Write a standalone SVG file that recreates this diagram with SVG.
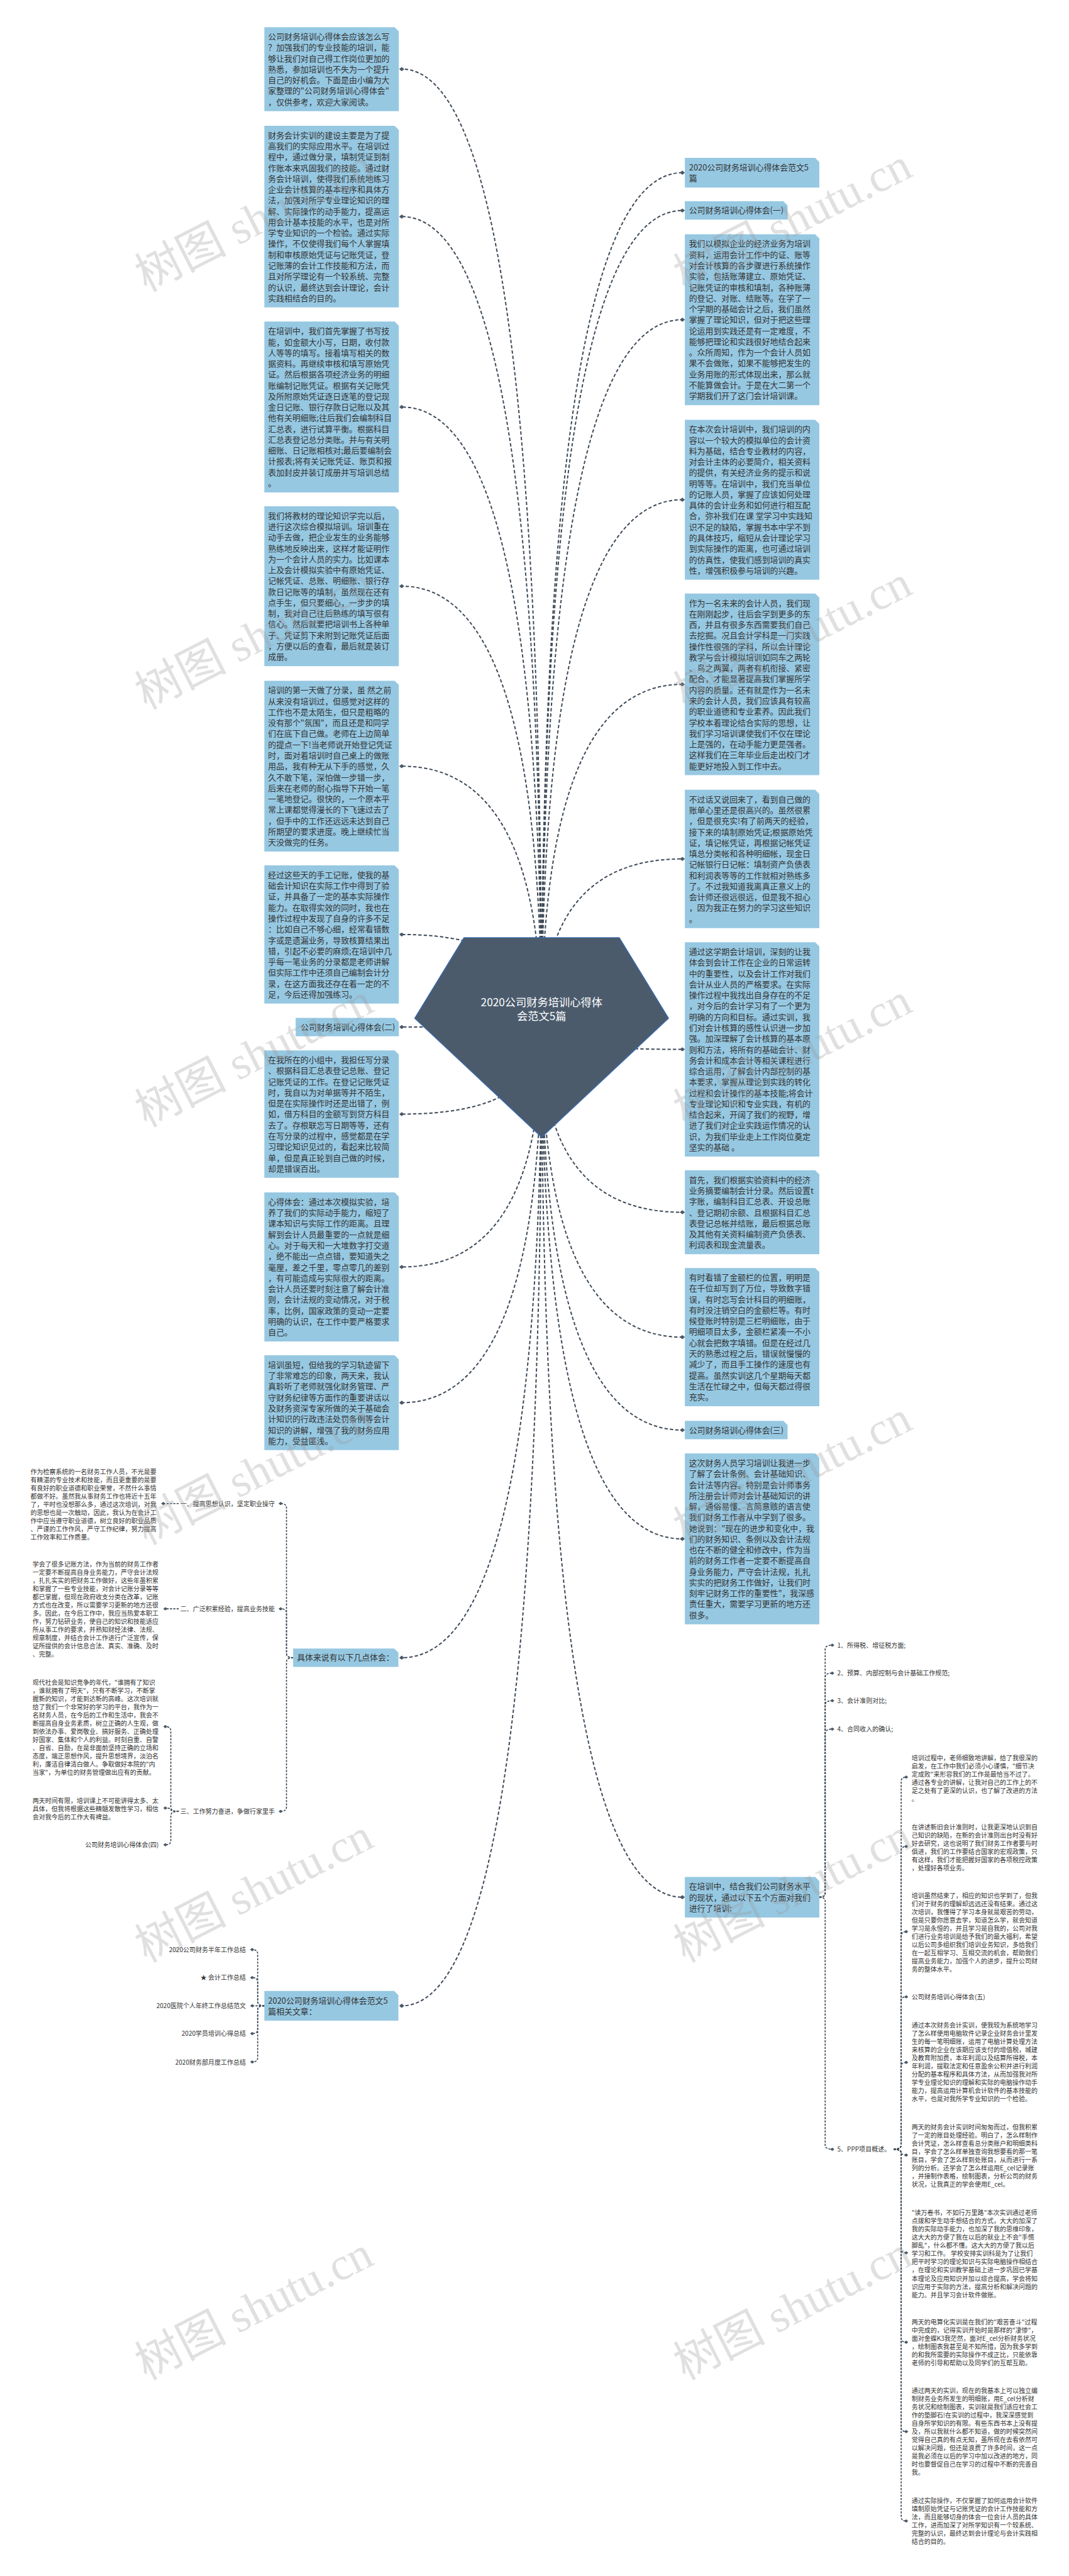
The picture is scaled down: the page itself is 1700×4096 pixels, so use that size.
<svg xmlns="http://www.w3.org/2000/svg" width="1700" height="4096" viewBox="0 0 1700 4096">
<defs>
<style>
.box{fill:#96c8e2;}
.t{font-family:"Noto Sans CJK SC","Liberation Sans",sans-serif;fill:#333;}
.bt{font-size:19.4px;}
.st{font-size:15.1px;}
.ct{font-family:"Noto Sans CJK SC","Liberation Sans",sans-serif;font-size:26px;fill:#fff;text-anchor:middle;}
.end{text-anchor:end;}
.mc{fill:none;stroke:#3e4a57;stroke-width:3;stroke-dasharray:8 5;marker-end:url(#dm);}
.sc{fill:none;stroke:#3e4a57;stroke-width:2.5;stroke-dasharray:5 3;marker-end:url(#dms);}
.wm{font-family:"Liberation Serif","Noto Sans CJK SC",serif;font-size:110px;fill:#9a9a9a;opacity:0.3;}
</style>
<marker id="dm" viewBox="-6 -5 12 10" markerWidth="12" markerHeight="10" markerUnits="userSpaceOnUse" orient="auto"><path d="M-6,0 L0,-5 L6,0 L0,5Z" fill="#4a5866"/></marker>
<marker id="dms" viewBox="-5 -4 10 8" markerWidth="10" markerHeight="8" markerUnits="userSpaceOnUse" orient="auto"><path d="M-5,0 L0,-4 L5,0 L0,4Z" fill="#4a5866"/></marker>
</defs>
<rect width="1700" height="4096" fill="#fff"/>
<g transform="scale(0.6641)">
<g id="connectors">
<path class="mc" d="M1297,2470 Q1297,165.5 962,165.5"/>
<path class="mc" d="M1297,2470 Q1297,518.5 962,518.5"/>
<path class="mc" d="M1297,2470 Q1297,974.5 962,974.5"/>
<path class="mc" d="M1297,2470 Q1297,1403.5 962,1403.5"/>
<path class="mc" d="M1297,2470 Q1297,1834.5 962,1834.5"/>
<path class="mc" d="M1297,2470 Q1297,2237.5 962,2237.5"/>
<path class="mc" d="M1297,2470 Q1297,2459 962,2459"/>
<path class="mc" d="M1297,2470 Q1297,2667.5 962,2667.5"/>
<path class="mc" d="M1297,2470 Q1297,3033.5 962,3033.5"/>
<path class="mc" d="M1297,2470 Q1297,3358.5 962,3358.5"/>
<path class="mc" d="M1297,2470 Q1297,3969 962,3969"/>
<path class="mc" d="M1297,2470 Q1297,4802.5 962,4802.5"/>
<path class="mc" d="M1297,2470 Q1297,413.5 1634,413.5"/>
<path class="mc" d="M1297,2470 Q1297,504 1634,504"/>
<path class="mc" d="M1297,2470 Q1297,765.5 1634,765.5"/>
<path class="mc" d="M1297,2470 Q1297,1196.5 1634,1196.5"/>
<path class="mc" d="M1297,2470 Q1297,1638.5 1634,1638.5"/>
<path class="mc" d="M1297,2470 Q1297,2056.5 1634,2056.5"/>
<path class="mc" d="M1297,2470 Q1297,2512.5 1634,2512.5"/>
<path class="mc" d="M1297,2470 Q1297,2902.5 1634,2902.5"/>
<path class="mc" d="M1297,2470 Q1297,3201.5 1634,3201.5"/>
<path class="mc" d="M1297,2470 Q1297,3424 1634,3424"/>
<path class="mc" d="M1297,2470 Q1297,3684.5 1634,3684.5"/>
<path class="mc" d="M1297,2470 Q1297,4542.5 1634,4542.5"/>
<path class="sc" d="M702,3969 Q686,3969 686,3959 L686,3610 Q686,3600 672,3600"/>
<path class="sc" d="M702,3969 Q686,3969 686,3959 L686,3862 Q686,3852 672,3852"/>
<path class="sc" d="M702,3969 Q686,3969 686,3979 L686,4327 Q686,4337 672,4337"/>
<path class="sc" d="M428,3600 L391,3600"/>
<path class="sc" d="M428,3852 L396,3852"/>
<path class="sc" d="M428,4337 Q409,4337 409,4327 L409,4144 Q409,4134 396,4134"/>
<path class="sc" d="M428,4337 Q409,4337 409,4333 Q409,4329 396,4329"/>
<path class="sc" d="M428,4337 Q409,4337 409,4347 L409,4407 Q409,4417 396,4417"/>
<path class="sc" d="M633,4802.5 Q617,4802.5 617,4792 L617,4678 Q617,4668 604,4668"/>
<path class="sc" d="M633,4802.5 Q617,4802.5 617,4792 L617,4745 Q617,4735 604,4735"/>
<path class="sc" d="M633,4802.5 L604,4802.5"/>
<path class="sc" d="M633,4802.5 Q617,4802.5 617,4812 L617,4859 Q617,4869 604,4869"/>
<path class="sc" d="M633,4802.5 Q617,4802.5 617,4812 L617,4927 Q617,4937 604,4937"/>
<path class="sc" d="M1962,4542.5 Q1976,4542.5 1976,4532 L1976,3949 Q1976,3939 1993,3939"/>
<path class="sc" d="M1962,4542.5 Q1976,4542.5 1976,4532 L1976,4016 Q1976,4006 1993,4006"/>
<path class="sc" d="M1962,4542.5 Q1976,4542.5 1976,4532 L1976,4082 Q1976,4072 1993,4072"/>
<path class="sc" d="M1962,4542.5 Q1976,4542.5 1976,4532 L1976,4150 Q1976,4140 1993,4140"/>
<path class="sc" d="M1962,4542.5 Q1976,4542.5 1976,4552 L1976,5136 Q1976,5146 1993,5146"/>
<path class="sc" d="M2140,5146 Q2158,5146 2158,5136 L2158,4265 Q2158,4255 2170,4255"/>
<path class="sc" d="M2140,5146 Q2158,5146 2158,5136 L2158,4431 Q2158,4421 2170,4421"/>
<path class="sc" d="M2140,5146 Q2158,5146 2158,5136 L2158,4635 Q2158,4625 2170,4625"/>
<path class="sc" d="M2140,5146 Q2158,5146 2158,5136 L2158,4791 Q2158,4781 2170,4781"/>
<path class="sc" d="M2140,5146 Q2158,5146 2158,5136 L2158,4948 Q2158,4938 2170,4938"/>
<path class="sc" d="M2140,5146 Q2158,5146 2158,5153 Q2158,5160 2170,5160"/>
<path class="sc" d="M2140,5146 Q2158,5146 2158,5156 L2158,5384 Q2158,5394 2170,5394"/>
<path class="sc" d="M2140,5146 Q2158,5146 2158,5156 L2158,5598 Q2158,5608 2170,5608"/>
<path class="sc" d="M2140,5146 Q2158,5146 2158,5156 L2158,5812 Q2158,5822 2170,5822"/>
<path class="sc" d="M2140,5146 Q2158,5146 2158,5156 L2158,6026 Q2158,6036 2170,6036"/>
</g>
<g id="center">
<polygon points="1111,2245 1483,2245 1601,2438 1297,2723 993,2438" fill="#4b5b6c" stroke="#3b6cb0" stroke-width="2"/>
<text class="ct" x="1297" y="2409">2020公司财务培训心得体</text>
<text class="ct" x="1297" y="2442">会范文5篇</text>
</g>
<g id="b1"><path class="box" d="M633,65 H945 L955,75 V266 H633Z"/>
<text class="t bt" x="642" y="95"><tspan x="642" dy="0">公司财务培训心得体会应该怎么写</tspan><tspan x="642" dy="26">？加强我们的专业技能的培训，能</tspan><tspan x="642" dy="26">够让我们对自己得工作岗位更加的</tspan><tspan x="642" dy="26">熟悉，参加培训也不失为一个提升</tspan><tspan x="642" dy="26">自己的好机会。下面是由小编为大</tspan><tspan x="642" dy="26">家整理的"公司财务培训心得体会"</tspan><tspan x="642" dy="26">，仅供参考，欢迎大家阅读。</tspan></text></g>
<g id="b2"><path class="box" d="M633,301 H945 L955,311 V736 H633Z"/>
<text class="t bt" x="642" y="331"><tspan x="642" dy="0">财务会计实训的建设主要是为了提</tspan><tspan x="642" dy="26">高我们的实际应用水平。在培训过</tspan><tspan x="642" dy="26">程中，通过做分录，填制凭证到制</tspan><tspan x="642" dy="26">作账本来巩固我们的技能。通过财</tspan><tspan x="642" dy="26">务会计培训，使得我们系统地练习</tspan><tspan x="642" dy="26">企业会计核算的基本程序和具体方</tspan><tspan x="642" dy="26">法，加强对所学专业理论知识的理</tspan><tspan x="642" dy="26">解、实际操作的动手能力，提高运</tspan><tspan x="642" dy="26">用会计基本技能的水平，也是对所</tspan><tspan x="642" dy="26">学专业知识的一个检验。通过实际</tspan><tspan x="642" dy="26">操作，不仅使得我们每个人掌握填</tspan><tspan x="642" dy="26">制和审核原始凭证与记账凭证，登</tspan><tspan x="642" dy="26">记账薄的会计工作技能和方法，而</tspan><tspan x="642" dy="26">且对所学理论有一个较系统、完整</tspan><tspan x="642" dy="26">的认识，最终达到会计理论，会计</tspan><tspan x="642" dy="26">实践相结合的目的。</tspan></text></g>
<g id="b3"><path class="box" d="M633,770 H945 L955,780 V1179 H633Z"/>
<text class="t bt" x="642" y="800"><tspan x="642" dy="0">在培训中，我们首先掌握了书写技</tspan><tspan x="642" dy="26">能，如金额大小写，日期，收付款</tspan><tspan x="642" dy="26">人等等的填写。接着填写相关的数</tspan><tspan x="642" dy="26">据资料。再继续审核和填写原始凭</tspan><tspan x="642" dy="26">证。然后根据各项经济业务的明细</tspan><tspan x="642" dy="26">账编制记账凭证。根据有关记账凭</tspan><tspan x="642" dy="26">及所附原始凭证逐日逐笔的登记现</tspan><tspan x="642" dy="26">金日记账、银行存款日记账以及其</tspan><tspan x="642" dy="26">他有关明细账;往后我们会编制科目</tspan><tspan x="642" dy="26">汇总表，进行试算平衡。根据科目</tspan><tspan x="642" dy="26">汇总表登记总分类账。并与有关明</tspan><tspan x="642" dy="26">细账、日记账相核对;最后要编制会</tspan><tspan x="642" dy="26">计报表;将有关记账凭证、账页和报</tspan><tspan x="642" dy="26">表加封皮并装订成册并写培训总结</tspan><tspan x="642" dy="26">。</tspan></text></g>
<g id="b4"><path class="box" d="M633,1212 H945 L955,1222 V1595 H633Z"/>
<text class="t bt" x="642" y="1242"><tspan x="642" dy="0">我们将教材的理论知识学完以后，</tspan><tspan x="642" dy="26">进行这次综合模拟培训。培训重在</tspan><tspan x="642" dy="26">动手去做，把企业发生的业务能够</tspan><tspan x="642" dy="26">熟练地反映出来，这样才能证明作</tspan><tspan x="642" dy="26">为一个会计人员的实力。比如课本</tspan><tspan x="642" dy="26">上及会计模拟实验中有原始凭证、</tspan><tspan x="642" dy="26">记帐凭证、总账、明细账、银行存</tspan><tspan x="642" dy="26">款日记账等的填制，虽然现在还有</tspan><tspan x="642" dy="26">点手生，但只要细心，一步步的填</tspan><tspan x="642" dy="26">制，我对自己往后熟练的填写很有</tspan><tspan x="642" dy="26">信心。然后就要把培训书上各种单</tspan><tspan x="642" dy="26">子、凭证剪下来附到记账凭证后面</tspan><tspan x="642" dy="26">，方便以后的查看，最后就是装订</tspan><tspan x="642" dy="26">成册。</tspan></text></g>
<g id="b5"><path class="box" d="M633,1630 H945 L955,1640 V2039 H633Z"/>
<text class="t bt" x="642" y="1660"><tspan x="642" dy="0">培训的第一天做了分录，虽 然之前</tspan><tspan x="642" dy="26">从来没有培训过，但感觉对这样的</tspan><tspan x="642" dy="26">工作也不是太陌生，但只是粗略的</tspan><tspan x="642" dy="26">没有那个"氛围"，而且还是和同学</tspan><tspan x="642" dy="26">们在底下自己做。老师在上边简单</tspan><tspan x="642" dy="26">的提点一下!当老师说开始登记凭证</tspan><tspan x="642" dy="26">时，面对着培训时自己桌上的做账</tspan><tspan x="642" dy="26">用品，我有种无从下手的感觉，久</tspan><tspan x="642" dy="26">久不敢下笔，深怕做一步错一步，</tspan><tspan x="642" dy="26">后来在老师的耐心指导下开始一笔</tspan><tspan x="642" dy="26">一笔地登记。很快的，一个原本平</tspan><tspan x="642" dy="26">常上课都觉得漫长的下飞速过去了</tspan><tspan x="642" dy="26">，但手中的工作还远远未达到自己</tspan><tspan x="642" dy="26">所期望的要求进度。晚上继续忙当</tspan><tspan x="642" dy="26">天没做完的任务。</tspan></text></g>
<g id="b6"><path class="box" d="M633,2072 H945 L955,2082 V2403 H633Z"/>
<text class="t bt" x="642" y="2102"><tspan x="642" dy="0">经过这些天的手工记账，使我的基</tspan><tspan x="642" dy="26">础会计知识在实际工作中得到了验</tspan><tspan x="642" dy="26">证，并具备了一定的基本实际操作</tspan><tspan x="642" dy="26">能力。在取得实效的同时，我也在</tspan><tspan x="642" dy="26">操作过程中发现了自身的许多不足</tspan><tspan x="642" dy="26">：比如自己不够心细，经常看错数</tspan><tspan x="642" dy="26">字或是遗漏业务，导致核算结果出</tspan><tspan x="642" dy="26">错，引起不必要的麻烦;在培训中几</tspan><tspan x="642" dy="26">乎每一笔业务的分录都是老师讲解</tspan><tspan x="642" dy="26">但实际工作中还须自己编制会计分</tspan><tspan x="642" dy="26">录，在这方面我还存在着一定的不</tspan><tspan x="642" dy="26">足，今后还得加强练习。</tspan></text></g>
<g id="b7"><path class="box" d="M708,2437 H945 L955,2447 V2481 H708Z"/>
<text class="t bt" x="720" y="2466">公司财务培训心得体会(二)</text></g>
<g id="b8"><path class="box" d="M633,2515 H945 L955,2525 V2820 H633Z"/>
<text class="t bt" x="642" y="2545"><tspan x="642" dy="0">在我所在的小组中，我担任写分录</tspan><tspan x="642" dy="26">、根据科目汇总表登记总账、登记</tspan><tspan x="642" dy="26">记账凭证的工作。在登记记账凭证</tspan><tspan x="642" dy="26">时，我自以为对单据等并不陌生，</tspan><tspan x="642" dy="26">但是在实际操作时还是出错了，例</tspan><tspan x="642" dy="26">如，借方科目的金额写到贷方科目</tspan><tspan x="642" dy="26">去了。存根联忘写日期等等，还有</tspan><tspan x="642" dy="26">在写分录的过程中，感觉都是在学</tspan><tspan x="642" dy="26">习理论知识见过的，看起来比较简</tspan><tspan x="642" dy="26">单，但是真正轮到自己做的时候，</tspan><tspan x="642" dy="26">却是错误百出。</tspan></text></g>
<g id="b9"><path class="box" d="M633,2855 H945 L955,2865 V3212 H633Z"/>
<text class="t bt" x="642" y="2885"><tspan x="642" dy="0">心得体会：通过本次模拟实验，培</tspan><tspan x="642" dy="26">养了我们的实际动手能力，缩短了</tspan><tspan x="642" dy="26">课本知识与实际工作的距离。且理</tspan><tspan x="642" dy="26">解到会计人员最重要的一点就是细</tspan><tspan x="642" dy="26">心。对于每天和一大堆数字打交道</tspan><tspan x="642" dy="26">，绝不能出一点点错，要知道失之</tspan><tspan x="642" dy="26">毫厘，差之千里，零点零几的差别</tspan><tspan x="642" dy="26">，有可能造成与实际很大的距离。</tspan><tspan x="642" dy="26">会计人员还要时刻注意了解会计准</tspan><tspan x="642" dy="26">则，会计法规的变动情况，对于税</tspan><tspan x="642" dy="26">率，比例，国家政策的变动一定要</tspan><tspan x="642" dy="26">明确的认识，在工作中要严格要求</tspan><tspan x="642" dy="26">自己。</tspan></text></g>
<g id="b10"><path class="box" d="M633,3245 H945 L955,3255 V3472 H633Z"/>
<text class="t bt" x="642" y="3275"><tspan x="642" dy="0">培训虽短，但给我的学习轨迹留下</tspan><tspan x="642" dy="26">了非常难忘的印象，两天来，我认</tspan><tspan x="642" dy="26">真聆听了老师就强化财务管理、严</tspan><tspan x="642" dy="26">守财务纪律等方面作的重要讲话以</tspan><tspan x="642" dy="26">及财务资深专家所做的关于基础会</tspan><tspan x="642" dy="26">计知识的行政违法处罚条例等会计</tspan><tspan x="642" dy="26">知识的讲解，增强了我的财务应用</tspan><tspan x="642" dy="26">能力，受益匪浅。</tspan></text></g>
<g id="b11"><path class="box" d="M702,3947 H944 L954,3957 V3991 H702Z"/>
<text class="t bt" x="711" y="3976">具体来说有以下几点体会：</text></g>
<g id="b12"><path class="box" d="M633,4767 H944 L954,4777 V4838 H633Z"/>
<text class="t bt" x="642" y="4797"><tspan x="642" dy="0">2020公司财务培训心得体会范文5</tspan><tspan x="642" dy="26">篇相关文章：</tspan></text></g>
<g id="labels-left">
<text class="t st end" x="658" y="3606">一、提高思想认识，坚定职业操守</text>
<text class="t st end" x="658" y="3858">二、广泛积累经验，提高业务技能</text>
<text class="t st end" x="658" y="4343">三、工作努力奋进，争做行家里手</text>
<text class="t st end" x="380" y="4423">公司财务培训心得体会(四)</text>
<text class="t st end" x="589" y="4674">2020公司财务半年工作总结</text>
<text class="t st end" x="589" y="4741">★ 会计工作总结</text>
<text class="t st end" x="589" y="4808">2020医院个人年终工作总结范文</text>
<text class="t st end" x="589" y="4875">2020学员培训心得总结</text>
<text class="t st end" x="589" y="4943">2020财务部月度工作总结</text>
</g>
<g id="l1"><text class="t st" x="73" y="3529"><tspan x="73" dy="0">作为检察系统的一名财务工作人员，不光是要</tspan><tspan x="73" dy="19.6">有精湛的专业技术和技能，而且更重要的是要</tspan><tspan x="73" dy="19.6">有良好的职业道德和职业荣誉，不然什么事情</tspan><tspan x="73" dy="19.6">都做不好。虽然我从事财务工作也将近十五年</tspan><tspan x="73" dy="19.6">了，平时也没想那么多，通过这次培训，对我</tspan><tspan x="73" dy="19.6">的思想也是一次触动，因此，我认为在会计工</tspan><tspan x="73" dy="19.6">作中应当遵守职业道德，树立良好的职业品质</tspan><tspan x="73" dy="19.6">、严谨的工作作风，严守工作纪律，努力提高</tspan><tspan x="73" dy="19.6">工作效率和工作质量。</tspan></text></g>
<g id="l2"><text class="t st" x="78" y="3751"><tspan x="78" dy="0">学会了很多记账方法，作为当前的财务工作者</tspan><tspan x="78" dy="19.6">一定要不断提高自身业务能力，严守会计法规</tspan><tspan x="78" dy="19.6">，扎扎实实的把财务工作做好，这些年虽积累</tspan><tspan x="78" dy="19.6">和掌握了一些专业技能，对会计记账分录等等</tspan><tspan x="78" dy="19.6">都已掌握，但现在政府收支分类在改革，记账</tspan><tspan x="78" dy="19.6">方式也在改变，所以需要学习更新的地方还很</tspan><tspan x="78" dy="19.6">多。因此，在今后工作中，我应当热爱本职工</tspan><tspan x="78" dy="19.6">作，努力钻研业务，使自己的知识和技能适应</tspan><tspan x="78" dy="19.6">所从事工作的要求，并熟知财经法律、法规、</tspan><tspan x="78" dy="19.6">规章制度，并结合会计工作进行广泛宣传，保</tspan><tspan x="78" dy="19.6">证所提供的会计信息合法、真实、准确、及时</tspan><tspan x="78" dy="19.6">、完整。</tspan></text></g>
<g id="l3"><text class="t st" x="78" y="4034"><tspan x="78" dy="0">现代社会是知识竞争的年代，"谁拥有了知识</tspan><tspan x="78" dy="19.6">，谁就拥有了明天"，只有不断学习，不断掌</tspan><tspan x="78" dy="19.6">握新的知识，才能到达新的高峰。这次培训就</tspan><tspan x="78" dy="19.6">给了我们一个非常好的学习的平台，我作为一</tspan><tspan x="78" dy="19.6">名财务人员，在今后的工作和生活中，我会不</tspan><tspan x="78" dy="19.6">断提高自身业务素质，树立正确的人生观，做</tspan><tspan x="78" dy="19.6">到依法办事、爱岗敬业、搞好服务、正确处理</tspan><tspan x="78" dy="19.6">好国家、集体和个人的利益。时刻自重、自警</tspan><tspan x="78" dy="19.6">、自省、自励，在是非面前坚持正确的立场和</tspan><tspan x="78" dy="19.6">态度，端正思想作风，提升思想境界，淡泊名</tspan><tspan x="78" dy="19.6">利，廉洁自律清白做人。争取做好本院的"内</tspan><tspan x="78" dy="19.6">当家"，为单位的财务管理做出应有的贡献。</tspan></text></g>
<g id="l4"><text class="t st" x="78" y="4317"><tspan x="78" dy="0">两天时间有限，培训课上不可能讲得太多、太</tspan><tspan x="78" dy="19.6">具体，但我将根据这些精髓发散性学习，相信</tspan><tspan x="78" dy="19.6">会对我今后的工作大有裨益。</tspan></text></g>
<g id="r1"><path class="box" d="M1640,378 H1952 L1962,388 V449 H1640Z"/>
<text class="t bt" x="1650" y="408"><tspan x="1650" dy="0">2020公司财务培训心得体会范文5</tspan><tspan x="1650" dy="26">篇</tspan></text></g>
<g id="r2"><path class="box" d="M1640,482 H1876 L1886,492 V526 H1640Z"/>
<text class="t bt" x="1650" y="511">公司财务培训心得体会(一)</text></g>
<g id="r3"><path class="box" d="M1640,561 H1952 L1962,571 V970 H1640Z"/>
<text class="t bt" x="1650" y="591"><tspan x="1650" dy="0">我们以模拟企业的经济业务为培训</tspan><tspan x="1650" dy="26">资料，运用会计工作中的证、账等</tspan><tspan x="1650" dy="26">对会计核算的各步骤进行系统操作</tspan><tspan x="1650" dy="26">实验，包括账薄建立、原始凭证、</tspan><tspan x="1650" dy="26">记账凭证的审核和填制，各种账薄</tspan><tspan x="1650" dy="26">的登记、对账、结账等。在学了一</tspan><tspan x="1650" dy="26">个学期的基础会计之后，我们虽然</tspan><tspan x="1650" dy="26">掌握了理论知识，但对于把这些理</tspan><tspan x="1650" dy="26">论运用到实践还是有一定难度，不</tspan><tspan x="1650" dy="26">能够把理论和实践很好地结合起来</tspan><tspan x="1650" dy="26">。众所周知，作为一个会计人员如</tspan><tspan x="1650" dy="26">果不会做账，如果不能够把发生的</tspan><tspan x="1650" dy="26">业务用账的形式体现出来，那么就</tspan><tspan x="1650" dy="26">不能算做会计。于是在大二第一个</tspan><tspan x="1650" dy="26">学期我们开了这门会计培训课。</tspan></text></g>
<g id="r4"><path class="box" d="M1640,1005 H1952 L1962,1015 V1388 H1640Z"/>
<text class="t bt" x="1650" y="1035"><tspan x="1650" dy="0">在本次会计培训中，我们培训的内</tspan><tspan x="1650" dy="26">容以一个较大的模拟单位的会计资</tspan><tspan x="1650" dy="26">料为基础，结合专业教材的内容，</tspan><tspan x="1650" dy="26">对会计主体的必要简介，相关资料</tspan><tspan x="1650" dy="26">的提供，有关经济业务的提示和说</tspan><tspan x="1650" dy="26">明等等。在培训中，我们充当单位</tspan><tspan x="1650" dy="26">的记账人员，掌握了应该如何处理</tspan><tspan x="1650" dy="26">具体的会计业务和如何进行相互配</tspan><tspan x="1650" dy="26">合，弥补我们在课 堂学习中实践知</tspan><tspan x="1650" dy="26">识不足的缺陷，掌握书本中学不到</tspan><tspan x="1650" dy="26">的具体技巧，缩短从会计理论学习</tspan><tspan x="1650" dy="26">到实际操作的距离，也可通过培训</tspan><tspan x="1650" dy="26">的仿真性，使我们感到培训的真实</tspan><tspan x="1650" dy="26">性，增强积极参与培训的兴趣。</tspan></text></g>
<g id="r5"><path class="box" d="M1640,1421 H1952 L1962,1431 V1856 H1640Z"/>
<text class="t bt" x="1650" y="1451"><tspan x="1650" dy="0">作为一名未来的会计人员，我们现</tspan><tspan x="1650" dy="26">在刚刚起步，往后会学到更多的东</tspan><tspan x="1650" dy="26">西，并且有很多东西需要我们自己</tspan><tspan x="1650" dy="26">去挖掘。况且会计学科是一门实践</tspan><tspan x="1650" dy="26">操作性很强的学科，所以会计理论</tspan><tspan x="1650" dy="26">教学与会计模拟培训如同车之两轮</tspan><tspan x="1650" dy="26">、鸟之两翼，两者有机衔接、紧密</tspan><tspan x="1650" dy="26">配合，才能显著提高我们掌握所学</tspan><tspan x="1650" dy="26">内容的质量。还有就是作为一名未</tspan><tspan x="1650" dy="26">来的会计人员，我们应该具有较高</tspan><tspan x="1650" dy="26">的职业道德和专业素养。因此我们</tspan><tspan x="1650" dy="26">学校本着理论结合实际的思想，让</tspan><tspan x="1650" dy="26">我们学习培训课使我们不仅在理论</tspan><tspan x="1650" dy="26">上是强的，在动手能力更是强者。</tspan><tspan x="1650" dy="26">这样我们在三年毕业后走出校门才</tspan><tspan x="1650" dy="26">能更好地投入到工作中去。</tspan></text></g>
<g id="r6"><path class="box" d="M1640,1891 H1952 L1962,1901 V2222 H1640Z"/>
<text class="t bt" x="1650" y="1921"><tspan x="1650" dy="0">不过话又说回来了，看到自己做的</tspan><tspan x="1650" dy="26">账单心里还是很高兴的。虽然很累</tspan><tspan x="1650" dy="26">，但是很充实!有了前两天的经验，</tspan><tspan x="1650" dy="26">接下来的填制原始凭证;根据原始凭</tspan><tspan x="1650" dy="26">证，填记帐凭证，再根据记帐凭证</tspan><tspan x="1650" dy="26">填总分类帐和各种明细帐，现金日</tspan><tspan x="1650" dy="26">记帐银行日记帐：填制资产负债表</tspan><tspan x="1650" dy="26">和利润表等等的工作就相对熟练多</tspan><tspan x="1650" dy="26">了。不过我知道我离真正意义上的</tspan><tspan x="1650" dy="26">会计师还很远很远，但是我不担心</tspan><tspan x="1650" dy="26">，因为我正在努力的学习这些知识</tspan><tspan x="1650" dy="26">。</tspan></text></g>
<g id="r7"><path class="box" d="M1640,2256 H1952 L1962,2266 V2769 H1640Z"/>
<text class="t bt" x="1650" y="2286"><tspan x="1650" dy="0">通过这学期会计培训，深刻的让我</tspan><tspan x="1650" dy="26">体会到会计工作在企业的日常运转</tspan><tspan x="1650" dy="26">中的重要性，以及会计工作对我们</tspan><tspan x="1650" dy="26">会计从业人员的严格要求。在实际</tspan><tspan x="1650" dy="26">操作过程中我找出自身存在的不足</tspan><tspan x="1650" dy="26">，对今后的会计学习有了一个更为</tspan><tspan x="1650" dy="26">明确的方向和目标。通过实训，我</tspan><tspan x="1650" dy="26">们对会计核算的感性认识进一步加</tspan><tspan x="1650" dy="26">强。加深理解了会计核算的基本原</tspan><tspan x="1650" dy="26">则和方法，将所有的基础会计、财</tspan><tspan x="1650" dy="26">务会计和成本会计等相关课程进行</tspan><tspan x="1650" dy="26">综合运用，了解会计内部控制的基</tspan><tspan x="1650" dy="26">本要求，掌握从理论到实践的转化</tspan><tspan x="1650" dy="26">过程和会计操作的基本技能;将会计</tspan><tspan x="1650" dy="26">专业理论知识和专业实践，有机的</tspan><tspan x="1650" dy="26">结合起来，开阔了我们的视野，增</tspan><tspan x="1650" dy="26">进了我们对企业实践运作情况的认</tspan><tspan x="1650" dy="26">识，为我们毕业走上工作岗位奠定</tspan><tspan x="1650" dy="26">坚实的基础 。</tspan></text></g>
<g id="r8"><path class="box" d="M1640,2802 H1952 L1962,2812 V3003 H1640Z"/>
<text class="t bt" x="1650" y="2832"><tspan x="1650" dy="0">首先，我们根据实验资料中的经济</tspan><tspan x="1650" dy="26">业务摘要编制会计分录。然后设置t</tspan><tspan x="1650" dy="26">字账，编制科目汇总表、开设总账</tspan><tspan x="1650" dy="26">、登记期初余额、且根据科目汇总</tspan><tspan x="1650" dy="26">表登记总帐并结账，最后根据总账</tspan><tspan x="1650" dy="26">及其他有关资料编制资产负债表、</tspan><tspan x="1650" dy="26">利润表和现金流量表。</tspan></text></g>
<g id="r9"><path class="box" d="M1640,3036 H1952 L1962,3046 V3367 H1640Z"/>
<text class="t bt" x="1650" y="3066"><tspan x="1650" dy="0">有时看错了金额栏的位置，明明是</tspan><tspan x="1650" dy="26">在千位却写到了万位，导致数字错</tspan><tspan x="1650" dy="26">误，有时忘写会计科目的明细账，</tspan><tspan x="1650" dy="26">有时没注销空白的金额栏等。有时</tspan><tspan x="1650" dy="26">候登账时特别是三栏明细账，由于</tspan><tspan x="1650" dy="26">明细项目太多，金额栏紧凑一不小</tspan><tspan x="1650" dy="26">心就会把数字填错。但是在经过几</tspan><tspan x="1650" dy="26">天的熟悉过程之后，错误就慢慢的</tspan><tspan x="1650" dy="26">减少了，而且手工操作的速度也有</tspan><tspan x="1650" dy="26">提高。虽然实训这几个星期每天都</tspan><tspan x="1650" dy="26">生活在忙碌之中，但每天都过得很</tspan><tspan x="1650" dy="26">充实。</tspan></text></g>
<g id="r10"><path class="box" d="M1640,3402 H1876 L1886,3412 V3446 H1640Z"/>
<text class="t bt" x="1650" y="3431">公司财务培训心得体会(三)</text></g>
<g id="r11"><path class="box" d="M1640,3480 H1952 L1962,3490 V3889 H1640Z"/>
<text class="t bt" x="1650" y="3510"><tspan x="1650" dy="0">这次财务人员学习培训让我进一步</tspan><tspan x="1650" dy="26">了解了会计条例、会计基础知识、</tspan><tspan x="1650" dy="26">会计法等内容。特别是会计师事务</tspan><tspan x="1650" dy="26">所注册会计师对会计基础知识的讲</tspan><tspan x="1650" dy="26">解，通俗易懂、言简意赅的语言使</tspan><tspan x="1650" dy="26">我们财务工作者从中学到了很多。</tspan><tspan x="1650" dy="26">她说到："现在的进步和变化中，我</tspan><tspan x="1650" dy="26">们的财务知识、条例以及会计法规</tspan><tspan x="1650" dy="26">也在不断的健全和修改中，作为当</tspan><tspan x="1650" dy="26">前的财务工作者一定要不断提高自</tspan><tspan x="1650" dy="26">身业务能力，严守会计法规，扎扎</tspan><tspan x="1650" dy="26">实实的把财务工作做好，让我们时</tspan><tspan x="1650" dy="26">刻牢记财务工作的重要性"，我深感</tspan><tspan x="1650" dy="26">责任重大，需要学习更新的地方还</tspan><tspan x="1650" dy="26">很多。</tspan></text></g>
<g id="r12"><path class="box" d="M1640,4494 H1952 L1962,4504 V4591 H1640Z"/>
<text class="t bt" x="1650" y="4524"><tspan x="1650" dy="0">在培训中，结合我们公司财务水平</tspan><tspan x="1650" dy="26">的现状，通过以下五个方面对我们</tspan><tspan x="1650" dy="26">进行了培训:</tspan></text></g>
<g id="items-right">
<text class="t st" x="2005" y="3945">1、所得税、增征税方面;</text>
<text class="t st" x="2005" y="4012">2、预算、内部控制与会计基础工作规范;</text>
<text class="t st" x="2005" y="4078">3、会计准则对比;</text>
<text class="t st" x="2005" y="4146">4、合同收入的确认;</text>
<text class="t st" x="2005" y="5152">5、PPP项目概述。</text>
</g>
<g id="p1"><text class="t st" x="2183" y="4214.5"><tspan x="2183" dy="0">培训过程中，老师细致地讲解，给了我很深的</tspan><tspan x="2183" dy="19.6">启发，在工作中我们必须小心谨慎，"细节决</tspan><tspan x="2183" dy="19.6">定成败"来形容我们的工作是最恰当不过了。</tspan><tspan x="2183" dy="19.6">通过各专业的讲解，让我对自己的工作上的不</tspan><tspan x="2183" dy="19.6">足之处有了更深的认识，也了解了改进的方法</tspan><tspan x="2183" dy="19.6">。</tspan></text></g>
<g id="p2"><text class="t st" x="2183" y="4380"><tspan x="2183" dy="0">在讲述新旧会计准则时，让我更深地认识到自</tspan><tspan x="2183" dy="19.6">己知识的缺陷，在新的会计准则出台时没有好</tspan><tspan x="2183" dy="19.6">好去研究，这也说明了我们财务工作者要与时</tspan><tspan x="2183" dy="19.6">俱进，我们的工作要结合国家的宏观政策，只</tspan><tspan x="2183" dy="19.6">有这样，我们才能把握好国家的各项税控政策</tspan><tspan x="2183" dy="19.6">，处理好各项业务。</tspan></text></g>
<g id="p3"><text class="t st" x="2183" y="4545"><tspan x="2183" dy="0">培训虽然结束了，相应的知识也学到了，但我</tspan><tspan x="2183" dy="19.6">们对于财务的理解却远远还没有结束。通过这</tspan><tspan x="2183" dy="19.6">次培训，我懂得了学习本身就是艰苦的劳动，</tspan><tspan x="2183" dy="19.6">但是只要你愿意去学，知道怎么学，就会知道</tspan><tspan x="2183" dy="19.6">学习是永恒的，并且学习是自我的，公司对我</tspan><tspan x="2183" dy="19.6">们进行业务培训是给予我们的最大福利，希望</tspan><tspan x="2183" dy="19.6">以后公司多组织我们培训业务知识，多给我们</tspan><tspan x="2183" dy="19.6">在一起互相学习、互相交流的机会，帮助我们</tspan><tspan x="2183" dy="19.6">提高业务能力，加强个人的进步，提升公司财</tspan><tspan x="2183" dy="19.6">务的整体水平。</tspan></text></g>
<g id="p4"><text class="t st" x="2183" y="4787">公司财务培训心得体会(五)</text></g>
<g id="p5"><text class="t st" x="2183" y="4855"><tspan x="2183" dy="0">通过本次财务会计实训，使我较为系统地学习</tspan><tspan x="2183" dy="19.6">了怎么样使用电脑软件记录企业财务会计里发</tspan><tspan x="2183" dy="19.6">生的每一笔明细账，运用了电脑计算处理方法</tspan><tspan x="2183" dy="19.6">来核算的企业在该期应该支付的增值税，城建</tspan><tspan x="2183" dy="19.6">及教育附加费，本年利润以及结算所得税，本</tspan><tspan x="2183" dy="19.6">年利润，提取法定和任意盈余公积并进行利润</tspan><tspan x="2183" dy="19.6">分配的基本程序和具体方法，从而加强我对所</tspan><tspan x="2183" dy="19.6">学专业理论知识的理解和实际的电脑操作动手</tspan><tspan x="2183" dy="19.6">能力，提高运用计算机会计软件的基本技能的</tspan><tspan x="2183" dy="19.6">水平，也是对我所学专业知识的一个检验。</tspan></text></g>
<g id="p6"><text class="t st" x="2183" y="5098"><tspan x="2183" dy="0">两天的财务会计实训时间匆匆而过，但我积累</tspan><tspan x="2183" dy="19.6">了一定的账目处理经验。明白了，怎么样制作</tspan><tspan x="2183" dy="19.6">会计凭证，怎么样查看总分类账户和明细类科</tspan><tspan x="2183" dy="19.6">目，学会了怎么样单独查询我想要看的那一笔</tspan><tspan x="2183" dy="19.6">账目，学会了怎么样到处账目，从而进行一系</tspan><tspan x="2183" dy="19.6">列的分析。还学会了怎么样运用E_cel记录账</tspan><tspan x="2183" dy="19.6">，并接制作表格，绘制图表，分析公司的财务</tspan><tspan x="2183" dy="19.6">状况，让我真正的学会使用E_cel。</tspan></text></g>
<g id="p7"><text class="t st" x="2183" y="5304"><tspan x="2183" dy="0">"读万卷书，不如行万里路"本次实训通过老师</tspan><tspan x="2183" dy="19.6">点拨和学生动手想结合的方式，大大的加深了</tspan><tspan x="2183" dy="19.6">我的实际动手能力，也加深了我的思维印象，</tspan><tspan x="2183" dy="19.6">这大大的方便了我在以后的就业上不会"手慌</tspan><tspan x="2183" dy="19.6">脚乱"，什么都不懂。这大大的方便了我以后</tspan><tspan x="2183" dy="19.6">学习和工作。 学校安排实训科是为了让我们</tspan><tspan x="2183" dy="19.6">把平时学习的理论知识与实际电脑操作相结合</tspan><tspan x="2183" dy="19.6">，在理论和实训教学基础上进一步巩固已学基</tspan><tspan x="2183" dy="19.6">本理论及应用知识并加以综合提高，学会将知</tspan><tspan x="2183" dy="19.6">识应用于实际的方法，提高分析和解决问题的</tspan><tspan x="2183" dy="19.6">能力。并且学习会计软件做账。</tspan></text></g>
<g id="p8"><text class="t st" x="2183" y="5566"><tspan x="2183" dy="0">两天的电算化实训是在我们的"艰苦奋斗"过程</tspan><tspan x="2183" dy="19.6">中完成的，记得实训开始时是那样的"凄惨"，</tspan><tspan x="2183" dy="19.6">面对金蝶K3我茫然，面对E_cel分析财务状况</tspan><tspan x="2183" dy="19.6">，绘制图表我甚至是不知所措，因为我多学到</tspan><tspan x="2183" dy="19.6">的和我所需要的实际操作不成正比，只能依靠</tspan><tspan x="2183" dy="19.6">老师的引导和帮助以及同学们的互帮互助。</tspan></text></g>
<g id="p9"><text class="t st" x="2183" y="5729"><tspan x="2183" dy="0">通过两天的实训，现在的我基本上可以独立编</tspan><tspan x="2183" dy="19.6">制财务业务所发生的明细账，用E_cel分析财</tspan><tspan x="2183" dy="19.6">务状况和绘制图表，实训就是我们适应社会工</tspan><tspan x="2183" dy="19.6">作的垫脚石!在实训的过程中，我深深感觉到</tspan><tspan x="2183" dy="19.6">自身所学知识的有限。有些东西书本上没有提</tspan><tspan x="2183" dy="19.6">及，所以我就什么都不知道，做的时候突然间</tspan><tspan x="2183" dy="19.6">觉得自己真的有点无知，虽所现在去看依然可</tspan><tspan x="2183" dy="19.6">以解决问题，但还是浪费了许多时间，这一点</tspan><tspan x="2183" dy="19.6">是我必须在以后的学习中加以改进的地方，同</tspan><tspan x="2183" dy="19.6">时也要督促自己在学习的过程中不断的完善自</tspan><tspan x="2183" dy="19.6">我。</tspan></text></g>
<g id="p10"><text class="t st" x="2183" y="5993"><tspan x="2183" dy="0">通过实际操作，不仅掌握了如何运用会计软件</tspan><tspan x="2183" dy="19.6">填制原始凭证与记账凭证的会计工作技能和方</tspan><tspan x="2183" dy="19.6">法，而且能够切身的体会一位会计人员的具体</tspan><tspan x="2183" dy="19.6">工作，进而加深了对所学知识有一个较系统、</tspan><tspan x="2183" dy="19.6">完整的认识，最终达到会计理论与会计实践相</tspan><tspan x="2183" dy="19.6">结合的目的。</tspan></text></g>
<g id="watermarks">
<text class="wm" x="350" y="700" transform="rotate(-27 350 700)">树图 shutu.cn</text>
<text class="wm" x="1640" y="700" transform="rotate(-27 1640 700)">树图 shutu.cn</text>
<text class="wm" x="350" y="1700" transform="rotate(-27 350 1700)">树图 shutu.cn</text>
<text class="wm" x="1640" y="1700" transform="rotate(-27 1640 1700)">树图 shutu.cn</text>
<text class="wm" x="350" y="2700" transform="rotate(-27 350 2700)">树图 shutu.cn</text>
<text class="wm" x="1640" y="2700" transform="rotate(-27 1640 2700)">树图 shutu.cn</text>
<text class="wm" x="350" y="3700" transform="rotate(-27 350 3700)">树图 shutu.cn</text>
<text class="wm" x="1640" y="3700" transform="rotate(-27 1640 3700)">树图 shutu.cn</text>
<text class="wm" x="350" y="4700" transform="rotate(-27 350 4700)">树图 shutu.cn</text>
<text class="wm" x="1640" y="4700" transform="rotate(-27 1640 4700)">树图 shutu.cn</text>
<text class="wm" x="350" y="5700" transform="rotate(-27 350 5700)">树图 shutu.cn</text>
<text class="wm" x="1640" y="5700" transform="rotate(-27 1640 5700)">树图 shutu.cn</text>
</g>
</g>
</svg>
